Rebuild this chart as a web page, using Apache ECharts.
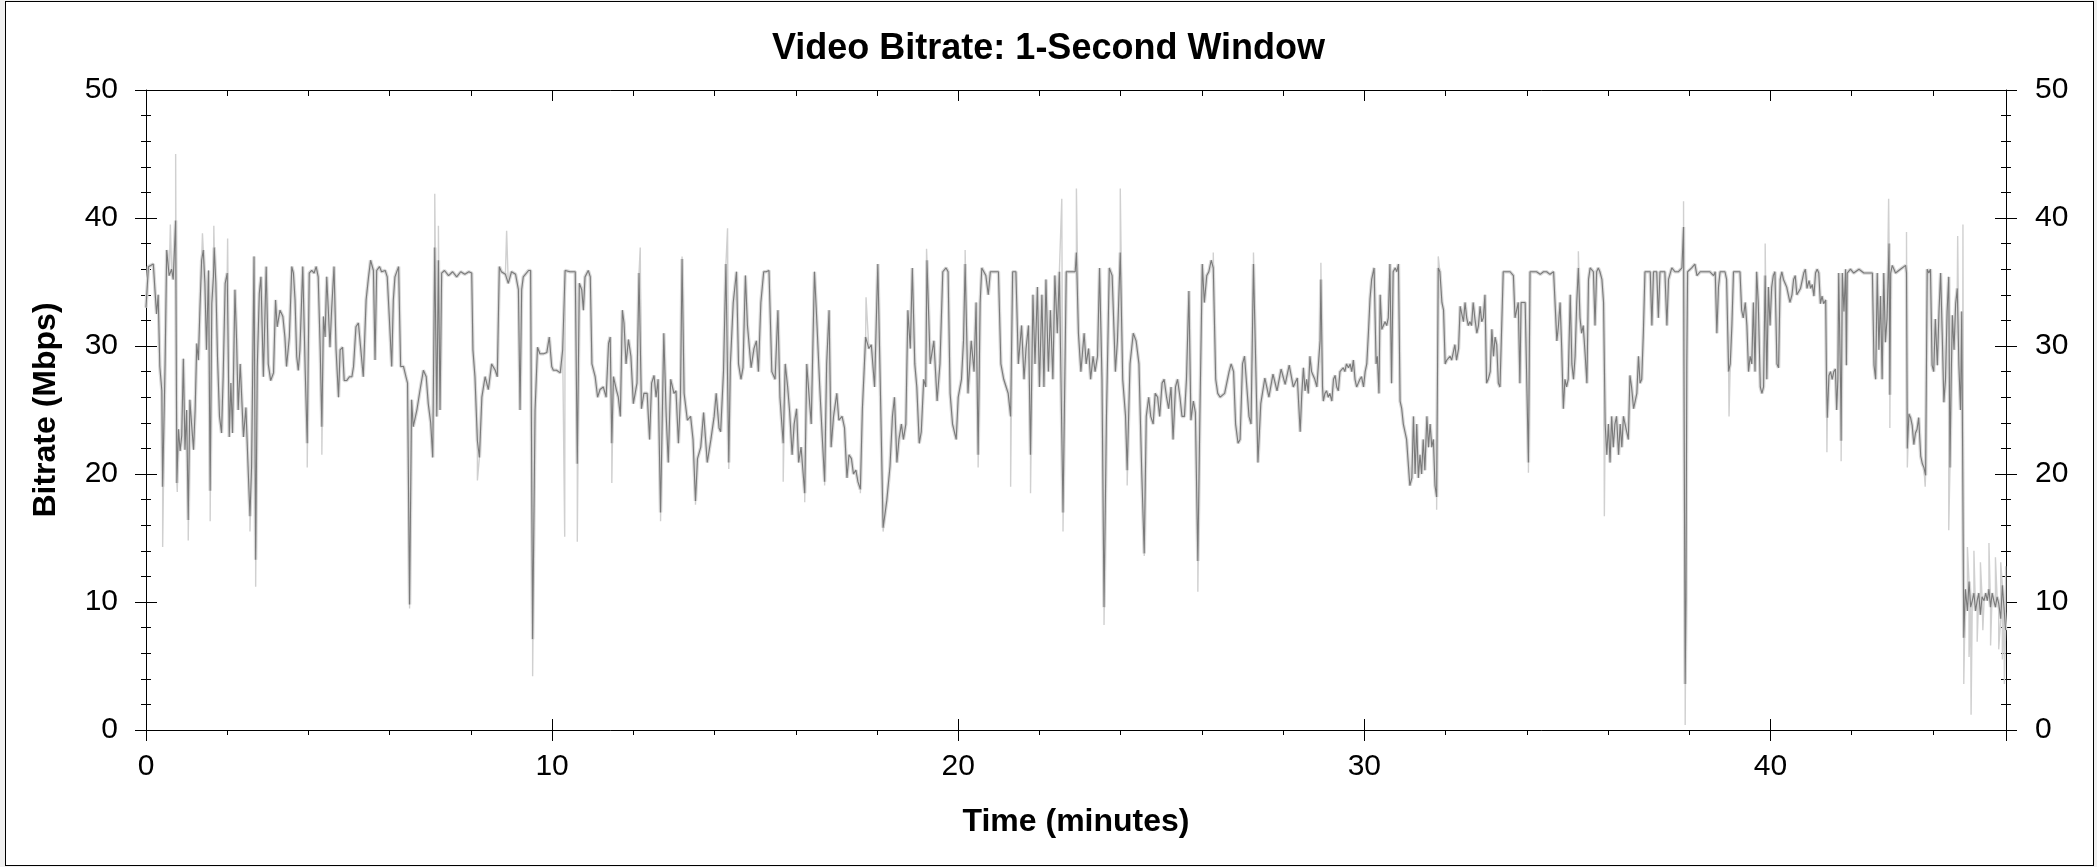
<!DOCTYPE html>
<html><head><meta charset="utf-8">
<script src="https://cdn.jsdelivr.net/npm/echarts@6/dist/echarts.min.js"></script>
<style>
html,body{margin:0;padding:0;background:#f0f0f0;width:2097px;height:867px;overflow:hidden;}
#frame{position:absolute;left:5px;top:1px;width:2087px;height:863px;border:1px solid #000;background:#fff;}
#chart{position:absolute;left:0;top:0;width:2097px;height:867px;}
</style></head><body>
<div id="frame"></div><div id="chart"></div>
<script>
// ---- data (time in minutes, bitrate in Mbps) ----
const titleText = 'Video Bitrate: 1-Second Window';
const xAxisTitle = 'Time (minutes)';
const yAxisTitle = 'Bitrate (Mbps)';
const xTickLabels = [0, 10, 20, 30, 40];
const yTickLabels = [0, 10, 20, 30, 40, 50];
const timeMax = 45.8;

// 1-second average bitrate (dark line)
const avgRate = [
[0,33],[0.06,36.2],[0.18,36.4],[0.22,34.4],[0.26,32.5],[0.30,34.0],[0.34,28.4],[0.39,26.5],[0.41,19.0],[0.47,28.6],[0.51,37.5],[0.57,35.5],[0.63,36.0],[0.67,35.2],[0.73,39.8],[0.76,19.3],[0.80,23.5],[0.84,21.8],[0.88,23.0],[0.92,29.0],[0.96,21.9],[1.00,25.0],[1.04,16.4],[1.08,25.8],[1.12,24.0],[1.17,21.9],[1.21,25.0],[1.25,30.2],[1.29,28.9],[1.33,33.1],[1.37,36.7],[1.41,37.5],[1.45,34.9],[1.49,29.7],[1.54,35.9],[1.58,18.7],[1.62,33.3],[1.66,35.4],[1.68,37.7],[1.72,34.9],[1.76,29.2],[1.81,24.5],[1.86,23.2],[1.90,27.6],[1.95,34.9],[2.00,35.7],[2.05,22.9],[2.09,27.1],[2.13,23.2],[2.19,34.4],[2.23,30.5],[2.27,25.0],[2.32,28.6],[2.40,22.9],[2.46,25.2],[2.52,20.0],[2.56,16.7],[2.60,20.6],[2.66,37.0],[2.70,13.3],[2.74,28.4],[2.79,34.1],[2.83,35.4],[2.89,27.6],[2.96,36.2],[3.01,28.6],[3.07,27.3],[3.14,27.9],[3.19,33.6],[3.23,31.5],[3.30,32.8],[3.37,32.3],[3.42,30.7],[3.46,28.4],[3.53,30.7],[3.59,36.2],[3.63,35.7],[3.67,33.6],[3.71,29.2],[3.75,28.1],[3.79,29.7],[3.86,36.2],[3.92,28.1],[3.97,22.4],[4.02,35.7],[4.08,35.9],[4.14,35.7],[4.19,36.2],[4.24,35.4],[4.29,29.7],[4.33,23.7],[4.37,32.3],[4.41,30.7],[4.45,35.4],[4.49,32.8],[4.53,29.9],[4.57,32.8],[4.63,36.2],[4.68,29.7],[4.74,26.0],[4.78,29.7],[4.84,29.9],[4.88,27.3],[4.94,27.3],[5.01,27.6],[5.07,27.6],[5.11,28.4],[5.17,31.5],[5.23,31.8],[5.29,29.7],[5.35,27.6],[5.42,33.6],[5.48,35.4],[5.53,36.7],[5.60,35.9],[5.64,28.9],[5.68,35.9],[5.75,36.2],[5.80,35.8],[5.89,35.9],[5.94,35.4],[5.99,32.3],[6.05,28.4],[6.09,33.6],[6.13,35.4],[6.22,36.2],[6.27,28.4],[6.34,28.4],[6.40,27.6],[6.44,27.1],[6.49,9.8],[6.54,25.8],[6.58,23.7],[6.67,25.0],[6.75,26.6],[6.83,28.1],[6.90,27.6],[6.95,25.5],[7.01,24.0],[7.06,21.3],[7.11,37.7],[7.16,24.5],[7.20,36.7],[7.24,25.0],[7.28,35.7],[7.35,35.9],[7.45,35.5],[7.55,35.8],[7.65,35.4],[7.75,35.8],[7.85,35.6],[7.95,35.8],[8.02,35.7],[8.05,29.7],[8.10,27.6],[8.16,22.6],[8.21,21.3],[8.27,26.0],[8.35,27.6],[8.43,26.6],[8.51,28.6],[8.60,28.1],[8.65,27.6],[8.70,36.2],[8.75,35.8],[8.85,35.6],[8.92,34.9],[9.00,35.8],[9.10,35.6],[9.17,34.4],[9.21,25.0],[9.25,34.4],[9.29,35.4],[9.42,35.9],[9.47,35.9],[9.52,7.1],[9.58,25.0],[9.64,29.9],[9.70,29.4],[9.79,29.4],[9.87,29.5],[9.93,30.7],[9.99,28.4],[10.03,28.1],[10.11,28.1],[10.20,27.9],[10.26,29.7],[10.32,35.9],[10.44,35.8],[10.57,35.8],[10.62,20.8],[10.67,34.9],[10.73,34.4],[10.77,32.8],[10.81,35.4],[10.89,35.9],[10.94,35.4],[10.98,28.6],[11.06,27.6],[11.12,26.0],[11.18,26.6],[11.26,26.8],[11.33,26.0],[11.39,30.2],[11.43,30.7],[11.47,22.4],[11.51,27.6],[11.58,26.6],[11.63,26.0],[11.68,24.5],[11.73,32.8],[11.77,31.8],[11.82,28.6],[11.88,30.5],[11.94,29.2],[12.00,25.5],[12.09,27.1],[12.14,35.7],
[12.20,25.1],[12.26,26.3],[12.34,26.3],[12.40,22.7],[12.45,27.1],[12.51,27.7],[12.56,26.0],[12.61,27.4],[12.67,17.0],[12.75,31.0],[12.81,24.5],[12.86,20.9],[12.92,27.4],[13.00,26.3],[13.05,26.5],[13.11,22.4],[13.16,26.0],[13.20,36.8],[13.25,26.3],[13.33,24.2],[13.41,24.5],[13.47,22.7],[13.53,17.9],[13.58,21.2],[13.66,22.1],[13.73,24.8],[13.82,20.9],[13.91,22.7],[13.99,24.5],[14.04,26.3],[14.11,23.6],[14.15,23.3],[14.22,28.0],[14.28,36.4],[14.35,20.9],[14.39,28.6],[14.46,33.4],[14.54,35.8],[14.59,28.6],[14.65,27.4],[14.70,28.3],[14.76,35.5],[14.81,31.6],[14.90,28.3],[14.97,29.8],[15.03,30.4],[15.08,28.0],[15.14,33.4],[15.21,35.8],[15.27,35.8],[15.34,35.9],[15.41,28.0],[15.49,27.4],[15.56,32.8],[15.61,26.0],[15.69,22.4],[15.74,28.6],[15.80,26.8],[15.85,24.8],[15.91,21.5],[15.96,23.9],[16.02,25.1],[16.07,20.9],[16.13,22.1],[16.22,18.5],[16.27,28.6],[16.33,26.0],[16.38,23.9],[16.46,35.8],[16.51,32.5],[16.59,26.8],[16.65,23.0],[16.71,19.4],[16.76,28.6],[16.82,32.8],[16.87,22.1],[16.93,24.5],[17.01,26.3],[17.06,24.2],[17.14,24.5],[17.20,23.6],[17.26,19.7],[17.31,21.5],[17.37,21.2],[17.42,20.0],[17.48,20.3],[17.53,19.4],[17.59,18.8],[17.64,25.1],[17.72,30.7],[17.80,29.8],[17.86,30.1],[17.94,26.8],[18.02,36.4],[18.08,27.1],[18.15,15.8],[18.24,17.9],[18.32,20.6],[18.38,24.5],[18.43,26.0],[18.49,20.9],[18.54,22.7],[18.60,23.9],[18.65,22.7],[18.71,23.9],[18.76,32.8],[18.82,29.8],[18.87,36.1],[18.93,28.6],[18.98,26.8],[19.04,22.4],[19.09,23.3],[19.15,27.4],[19.20,26.8],[19.23,36.7],[19.31,28.6],[19.40,30.4],[19.48,25.7],[19.55,28.6],[19.62,35.8],[19.70,36.1],[19.75,35.8],[19.80,26.3],[19.86,23.9],[19.95,22.7],[20.00,26.0],[20.08,27.4],[20.13,30.4],[20.17,36.4],[20.24,26.3],[20.32,30.4],[20.39,28.0],[20.44,33.4],[20.49,21.5],[20.54,33.4],[20.58,36.1],[20.68,35.5],[20.74,34.0],[20.79,35.8],[20.90,35.8],[20.99,35.8],[21.05,28.6],[21.12,27.4],[21.18,26.8],[21.23,26.3],[21.29,24.5],[21.34,35.8],[21.42,35.8],[21.48,28.6],[21.56,31.6],[21.62,27.4],[21.67,29.8],[21.73,31.6],[21.78,21.5],[21.84,34.0],[21.89,28.6],[21.95,34.6],[22.00,26.8],[22.06,34.0],[22.11,26.8],[22.16,35.2],[22.22,28.0],[22.27,32.8],[22.33,27.4],[22.38,35.5],[22.44,31.0],[22.49,35.8],[22.58,17.0],[22.66,35.8],[22.77,35.8],[22.88,35.8],[22.91,37.3],[22.96,31.0],[23.02,28.0],[23.10,31.0],[23.15,28.6],[23.21,29.8],[23.26,27.4],[23.32,29.2],[23.37,28.0],[23.43,29.2],[23.48,36.1],[23.54,27.4],[23.59,9.6],[23.65,24.5],[23.72,36.1],[23.79,35.5],[23.87,28.0],[23.92,30.4],[23.99,37.3],[24.05,27.4],[24.12,24.5],[24.16,20.3],[24.23,28.6],[24.31,31.0],[24.38,30.4],[24.45,28.6],[24.52,20.0],[24.58,13.8],[24.63,24.5],[24.69,26.0],[24.74,24.5],[24.80,23.9],[24.85,26.3],[24.91,26.0],[24.96,24.5],[25.02,27.1],[25.07,27.4],[25.13,26.0],[25.18,25.1],[25.24,26.8],[25.29,22.7],[25.35,26.8],[25.40,27.4],[25.46,26.0],[25.51,24.5],[25.57,24.5],[25.62,27.4],[25.68,34.3],[25.73,24.2],[25.79,25.7],[25.84,24.8],[25.90,13.2],[25.95,24.5],[26.01,36.4],[26.06,33.4],[26.12,35.5],[26.17,35.8],[26.23,36.7],[26.28,36.1],[26.34,27.4],[26.39,26.3],[26.45,26.0],[26.56,26.3],[26.67,28.0],[26.72,28.6],[26.78,28.0],[26.83,23.9],[26.89,22.4],[26.94,22.7],[27.00,28.6],[27.05,29.2],[27.16,24.5],[27.21,23.9],[27.27,36.4],[27.38,20.9],
[27.45,25.5],[27.55,27.5],[27.65,26.0],[27.75,27.8],[27.85,26.5],[27.95,28.2],[28.05,27.0],[28.15,28.5],[28.25,26.8],[28.35,27.5],
[28.42,23.3],[28.46,26.3],[28.50,28.3],[28.54,26.5],[28.58,27.4],[28.62,26.3],[28.66,29.2],[28.70,28.0],[28.74,27.7],[28.78,27.4],[28.83,26.8],[28.87,28.6],[28.91,30.4],[28.93,35.2],[28.97,26.8],[28.99,25.7],[29.03,26.3],[29.07,26.5],[29.11,26.0],[29.15,26.3],[29.20,25.7],[29.24,27.4],[29.28,27.7],[29.32,26.8],[29.36,26.5],[29.40,28.0],[29.44,28.0],[29.48,28.3],[29.52,28.0],[29.56,28.6],[29.61,28.3],[29.65,28.6],[29.69,28.0],[29.73,28.9],[29.77,27.4],[29.81,26.8],[29.85,27.1],[29.89,27.4],[29.93,27.6],[29.98,26.8],[30.02,28.0],[30.06,28.6],[30.10,31.0],[30.14,33.7],[30.18,35.2],[30.24,36.1],[30.29,28.6],[30.32,29.2],[30.36,26.3],[30.39,34.0],[30.43,31.3],[30.47,31.6],[30.51,31.9],[30.55,31.6],[30.59,32.2],[30.63,36.4],[30.67,27.1],[30.71,35.8],[30.76,36.1],[30.80,35.8],[30.84,36.4],[30.88,25.7],[30.92,25.1],[30.96,23.9],[31.00,23.3],[31.04,22.7],[31.08,22.7],[31.12,19.1],[31.17,19.7],[31.21,24.5],[31.25,20.0],[31.29,23.9],[31.33,19.7],[31.37,21.5],[31.41,20.0],[31.45,22.7],[31.49,20.3],[31.54,24.5],[31.58,22.1],[31.62,23.9],[31.66,22.1],[31.70,22.7],[31.74,19.1],[31.78,18.2],[31.82,36.1],[31.86,35.8],[31.91,33.4],[31.95,32.8],[31.99,28.6],[32.03,28.9],[32.07,28.9],[32.11,29.2],[32.15,28.9],[32.19,29.5],[32.23,30.1],[32.27,28.9],[32.32,29.8],[32.36,33.1],[32.40,32.5],[32.44,31.9],[32.48,33.4],[32.52,32.2],[32.56,31.6],[32.60,31.9],[32.64,31.6],[32.68,33.4],[32.72,32.2],[32.77,31.0],[32.81,31.6],[32.85,33.1],[32.89,31.9],[32.93,32.2],[32.97,34.0],[33.01,27.1],[33.05,27.4],[33.10,28.0],[33.14,31.3],[33.18,29.2],[33.22,30.7],[33.26,30.1],[33.30,27.1],[33.34,26.8],[33.38,26.8],[33.42,35.8],[33.51,35.8],[33.59,35.8],[33.67,35.5],[33.71,32.2],[33.75,32.8],[33.79,33.4],[33.83,27.1],[33.86,33.4],[33.96,33.4],[34.00,33.4],[34.04,20.9],[34.08,35.8],[34.16,35.8],[34.24,35.8],[34.33,35.6],[34.41,35.8],[34.49,35.8],[34.57,35.6],[34.66,35.8],[34.70,35.8],[34.74,30.4],[34.78,31.6],[34.82,33.4],[34.86,29.8],[34.90,25.1],[34.94,27.4],[34.98,26.8],[35.02,27.4],[35.07,34.0],[35.11,28.6],[35.15,27.4],[35.19,29.2],[35.23,33.4],[35.27,36.1],[35.31,32.2],[35.35,31.0],[35.39,31.6],[35.44,29.2],[35.48,27.1],[35.52,35.2],[35.56,36.1],[35.64,35.8],[35.68,31.6],[35.72,35.8],[35.76,36.1],[35.80,35.8],[35.85,35.2],[35.89,33.4],[35.93,23.9],[35.97,21.5],[36.01,23.9],[36.05,20.9],[36.09,24.5],[36.13,22.1],[36.17,23.9],[36.21,24.5],[36.26,21.5],[36.30,23.9],[36.34,22.1],[36.38,24.5],[36.42,23.9],[36.46,23.3],[36.50,22.7],[36.54,27.7],[36.58,26.8],[36.63,25.1],[36.67,25.1],[36.71,26.3],[36.75,29.2],[36.79,27.1],[36.83,27.4],[36.87,31.0],[36.91,35.8],[36.99,35.8],[37.04,35.8],[37.08,31.6],[37.12,35.8],[37.20,35.8],[37.24,32.2],[37.28,35.8],[37.40,35.8],[37.45,31.6],[37.49,35.2],[37.57,36.1],[37.65,35.8],[37.73,35.8],[37.82,36.1],[37.86,39.3],[37.87,28.6],[37.90,3.6],[37.92,10.2],[37.94,28.6],[37.96,35.8],[38.06,36.1],[38.14,36.4],[38.19,35.5],[38.27,35.8],[38.35,35.8],[38.43,35.8],[38.51,35.8],[38.60,35.5],[38.64,35.8],[38.68,31.0],[38.72,34.6],[38.76,35.8],[38.88,35.8],[38.92,35.2],[38.97,28.0],[39.01,28.6],[39.05,31.6],[39.09,35.8],[39.17,35.8],[39.25,35.8],[39.29,32.8],[39.33,32.2],[39.38,33.4],[39.42,31.6],[39.46,28.0],[39.50,29.2],[39.54,28.6],[39.58,33.4],[39.62,28.0],[39.66,35.8],[39.70,33.4],[39.75,26.8],[39.79,26.3],[39.83,26.8],[39.87,35.5],[39.91,27.4],[39.95,34.6],[39.99,31.6],[40.03,34.6],[40.07,35.5],[40.11,35.8],[40.16,28.6],[40.20,28.3],[40.24,35.2],[40.28,35.8],[40.32,35.2],[40.36,34.9],[40.40,34.6],[40.44,34.6],[40.48,33.4],[40.53,34.0],[40.57,35.2],[40.61,35.5],[40.65,34.0],[40.69,34.0],
[40.74,34.5],[40.82,35.7],[40.86,36.0],[40.90,34.5],[40.95,35.1],[40.99,34.5],[41.03,34.8],[41.07,33.9],[41.11,35.7],[41.15,36.0],[41.19,35.7],[41.23,33.3],[41.27,33.9],[41.31,33.3],[41.36,33.6],[41.38,27.4],[41.40,24.4],[41.44,27.7],[41.48,28.0],[41.52,27.4],[41.56,28.0],[41.60,28.2],[41.63,25.0],[41.66,27.4],[41.68,35.7],[41.73,26.2],[41.74,22.6],[41.77,35.7],[41.81,32.7],[41.85,36.0],[41.87,28.5],[41.89,35.7],[41.97,36.0],[42.05,35.7],[42.18,36.0],[42.30,35.7],[42.38,35.7],[42.51,35.7],[42.55,28.5],[42.59,27.4],[42.63,35.7],[42.67,29.7],[42.71,33.9],[42.75,27.4],[42.79,35.7],[42.83,30.3],[42.87,32.1],[42.92,38.0],[42.94,26.2],[42.96,35.7],[43.00,36.3],[43.08,35.7],[43.20,36.0],[43.33,36.3],[43.35,35.7],[43.37,22.0],[43.41,24.7],[43.45,24.4],[43.49,23.8],[43.53,22.3],[43.57,23.2],[43.61,23.5],[43.65,24.4],[43.70,21.4],[43.74,20.8],[43.78,20.5],[43.82,19.9],[43.86,36.0],[43.90,35.7],[43.94,36.0],[43.98,28.5],[44.02,28.0],[44.06,32.1],[44.11,28.5],[44.15,32.7],[44.19,35.7],[44.23,30.9],[44.27,25.6],[44.31,27.4],[44.35,32.7],[44.39,35.4],[44.42,20.5],[44.45,27.4],[44.48,32.4],[44.52,29.7],[44.56,33.3],[44.60,34.5],[44.64,28.5],[44.68,25.0],[44.71,32.7],[44.73,22.6],[44.76,7.2],[44.80,11.0],[44.85,9.3],[44.89,11.6],[44.93,9.6],[44.97,10.1],[45.01,10.7],[45.05,9.3],[45.09,10.1],[45.13,10.7],[45.17,9.0],[45.21,10.4],[45.26,10.1],[45.30,10.7],[45.34,10.1],[45.38,11.0],[45.42,9.6],[45.46,10.7],[45.50,10.1],[45.54,9.6],[45.58,10.4],[45.62,9.9],[45.67,8.7],[45.71,11.3],[45.75,9.6],[45.79,7.8]
];

// per-frame peaks / dips that reach beyond the 1-second average (light line)
const peakRate = [
[0.41,14.3],[0.60,39.5],[0.73,45.0],[0.77,18.6],[1.04,14.8],[1.39,38.8],[1.58,16.3],[1.67,39.4],[2.01,38.4],[2.56,15.5],[2.70,11.2],[3.97,20.5],[4.33,21.5],[6.49,9.5],[7.11,41.9],[7.20,39.4],[8.16,19.5],[8.88,39.0],[9.52,4.2],[10.31,15.1],[10.62,14.7],[11.47,19.3],[12.17,37.7],[12.67,16.3],[13.20,37.0],[13.53,17.6],[14.32,39.2],[14.35,20.4],[15.69,19.4],[16.22,17.8],[16.71,19.1],[17.59,18.5],[17.73,33.8],[18.15,15.5],[19.22,37.6],[20.17,37.5],[20.49,20.5],[21.29,19.0],[21.78,18.5],[22.55,41.5],[22.58,15.5],[22.91,42.3],[23.59,8.2],[23.99,42.3],[24.16,19.1],[24.58,13.6],[25.90,10.8],[26.28,37.3],[27.27,37.3],[28.93,36.5],[31.78,17.2],[31.82,37.0],[34.04,20.1],[35.27,37.4],[35.91,16.7],[37.86,41.3],[37.90,0.4],[38.98,24.5],[39.87,38.0],[41.39,21.7],[41.74,21.0],[42.91,41.5],[42.94,23.6],[43.35,38.9],[43.37,20.5],[43.81,19.0],[44.39,15.6],[44.61,38.6],[44.74,39.5],[44.76,3.6],[44.85,14.3],[44.89,5.7],[44.94,1.2],[45.01,14.0],[45.09,6.9],[45.17,13.1],[45.23,7.8],[45.38,14.6],[45.42,6.6],[45.54,13.5],[45.62,6.3],[45.67,13.1],[45.71,5.5],[45.76,3.6],[45.79,12.8]
];

// ---- chart ----
const FONT = '"Liberation Sans", Arial, Helvetica, sans-serif';
const lightData = avgRate.concat(peakRate).sort((a, b) => a[0] - b[0]);
const black = '#000';
const xFmt = v => (xTickLabels.indexOf(Math.round(v * 1000) / 1000) >= 0 ? String(v) : '');
const yFmt = v => (yTickLabels.indexOf(Math.round(v * 1000) / 1000) >= 0 ? String(v) : '');

const xBase = {
  type: 'value', min: 0, max: timeMax, interval: 10,
  splitLine: { show: false }, minorSplitLine: { show: false },
  axisLine: { onZero: false, lineStyle: { color: black, width: 1 } }
};
const yBase = {
  type: 'value', min: 0, max: 50, interval: 10,
  splitLine: { show: false }, minorSplitLine: { show: false },
  axisLine: { onZero: false, lineStyle: { color: black, width: 1 } }
};
const lblStyle = { fontFamily: FONT, fontSize: 30, color: black };

const chart = echarts.init(document.getElementById('chart'), null, { renderer: 'canvas' });
chart.setOption({
  animation: false,
  backgroundColor: 'transparent',
  title: {
    text: titleText, left: 'center', top: 26,
    textStyle: { fontFamily: FONT, fontSize: 36, fontWeight: 'bold', color: black }
  },
  grid: { left: 146, right: 91, top: 90, bottom: 137, containLabel: false, outerBoundsMode: 'none' },
  xAxis: [
    Object.assign({}, xBase, {
      position: 'bottom',
      axisTick: { show: true, inside: false, length: 11, lineStyle: { color: black } },
      minorTick: { show: true, splitNumber: 5, length: 5, lineStyle: { color: black } },
      axisLabel: Object.assign({ margin: 22, formatter: xFmt, showMaxLabel: false }, lblStyle),
      name: xAxisTitle, nameLocation: 'middle', nameGap: 76,
      nameTextStyle: { fontFamily: FONT, fontSize: 32, fontWeight: 'bold', color: black }
    }),
    Object.assign({}, xBase, {
      position: 'bottom', axisLine: { show: false, onZero: false },
      axisTick: { show: true, inside: true, length: 11, lineStyle: { color: black } },
      minorTick: { show: false }, axisLabel: { show: false }
    }),
    Object.assign({}, xBase, {
      position: 'top',
      axisTick: { show: true, inside: true, length: 11, lineStyle: { color: black } },
      minorTick: { show: true, splitNumber: 5, length: 6, lineStyle: { color: black } },
      axisLabel: { show: false }
    })
  ],
  yAxis: [
    Object.assign({}, yBase, {
      position: 'left',
      axisTick: { show: true, inside: false, length: 11, lineStyle: { color: black } },
      minorTick: { show: true, splitNumber: 5, length: 5, lineStyle: { color: black } },
      axisLabel: Object.assign({ margin: 28, formatter: yFmt }, lblStyle),
      name: yAxisTitle, nameLocation: 'middle', nameGap: 84, nameRotate: 90,
      nameTextStyle: { fontFamily: FONT, fontSize: 32, fontWeight: 'bold', color: black }
    }),
    Object.assign({}, yBase, {
      position: 'left', axisLine: { show: false, onZero: false },
      axisTick: { show: true, inside: true, length: 11, lineStyle: { color: black } },
      minorTick: { show: true, splitNumber: 5, length: 5, lineStyle: { color: black } },
      axisLabel: { show: false }
    }),
    Object.assign({}, yBase, {
      position: 'right',
      axisTick: { show: true, inside: false, length: 11, lineStyle: { color: black } },
      minorTick: { show: true, splitNumber: 5, length: 5, lineStyle: { color: black } },
      axisLabel: Object.assign({ margin: 29, formatter: yFmt }, lblStyle)
    }),
    Object.assign({}, yBase, {
      position: 'right', axisLine: { show: false, onZero: false },
      axisTick: { show: true, inside: true, length: 11, lineStyle: { color: black } },
      minorTick: { show: true, splitNumber: 5, length: 5, lineStyle: { color: black } },
      axisLabel: { show: false }
    })
  ],
  series: [
    {
      name: 'band', type: 'line', data: avgRate, xAxisIndex: 0, yAxisIndex: 0,
      symbol: 'none', silent: true, z: 1,
      lineStyle: { color: '#d9d9d9', width: 3.5, join: 'bevel' }
    },
    {
      name: 'peak', type: 'line', data: lightData, xAxisIndex: 0, yAxisIndex: 0,
      symbol: 'none', silent: true, z: 2,
      lineStyle: { color: '#d0d0d0', width: 1.4, join: 'bevel' }
    },
    {
      name: 'average', type: 'line', data: avgRate, xAxisIndex: 0, yAxisIndex: 0,
      symbol: 'none', silent: true, z: 3,
      lineStyle: { color: '#7a7a7a', width: 1.1, join: 'bevel' }
    }
  ]
});
</script>
</body></html>
